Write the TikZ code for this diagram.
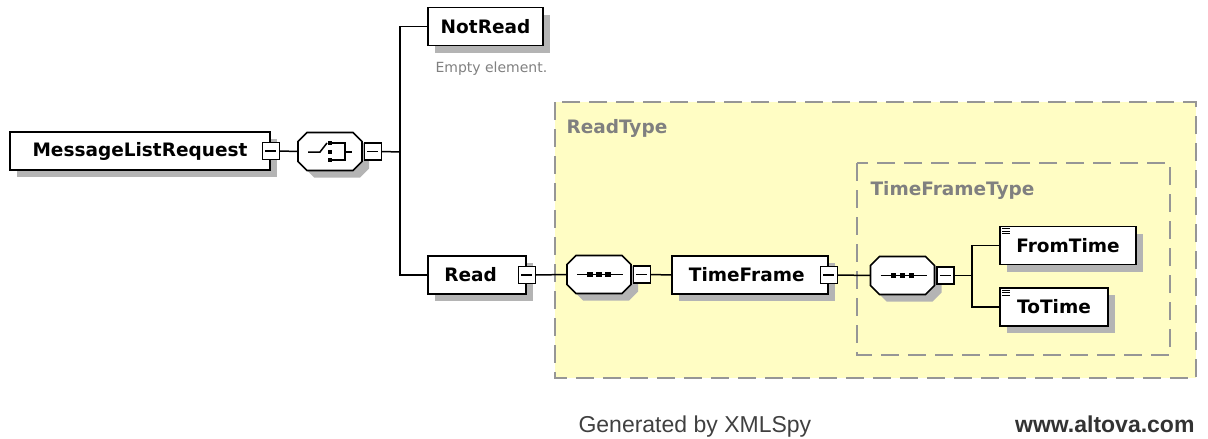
\documentclass[tikz,border=0pt]{standalone}
\usepackage{fontspec}
\setmainfont{DejaVu Sans}
\newfontfamily\footfont{Liberation Sans}
\usetikzlibrary{shadows,calc,positioning}
\definecolor{typefill}{RGB}{255,253,196}
\definecolor{typeline}{RGB}{150,150,150}
\definecolor{typetext}{RGB}{128,128,128}
\definecolor{shadowgray}{RGB}{180,180,180}
\tikzset{
  shade box/.style={drop shadow={shadow xshift=7pt,shadow yshift=-7pt,fill=shadowgray,opacity=1}},
  elem/.style={draw,fill=white,line width=1.7pt,minimum height=38pt,inner sep=0pt,
    font=\fontsize{18.5}{20}\selectfont\bfseries,shade box},
  compositor/.style={minimum width=64pt,minimum height=38pt,inner sep=0pt},
  minusbox/.style={draw,fill=white,line width=1.3pt,minimum width=17pt,minimum height=17pt,inner sep=0pt,
    path picture={\draw[line width=1.3pt] ($(path picture bounding box.west)+(3pt,0)$)
      -- ($(path picture bounding box.east)+(-3pt,0)$);}},
  wire/.style={line width=1.5pt},
  typebox/.style={draw=typeline,fill=typefill,line width=1.8pt,dash pattern=on 18pt off 9pt},
  typelabel/.style={text=typetext,font=\fontsize{18.5}{20}\selectfont\bfseries,anchor=west},
  pics/octagon/.style={code={
    \fill[shadowgray] (-25,-3) -- (-16,-12) -- (30,-12) -- (39,-3) -- (39,17) -- (30,26) -- (-16,26) -- (-25,17) -- cycle;
    \draw[fill=white,line width=1.7pt] (-32,-10) -- (-23,-19) -- (23,-19) -- (32,-10) -- (32,10) -- (23,19) -- (-23,19) -- (-32,10) -- cycle;}},
  pics/seqsym/.style={code={
    \draw[wire] (-22,0) -- (24,0);
    \foreach \d in {-9,0,9} \fill (\d-2.7,-2.7) rectangle (\d+2.7,2.7);}},
  pics/choicesym/.style={code={
    \draw[wire] (-22,0.5) -- (-10,0.5) -- (-3,-8.5);
    \foreach \d in {-8.5,0.5,8.5} \fill (-2.2,\d-2.2) rectangle (2.2,\d+2.2);
    \draw[wire] (2,-8.5) -- (15,-8.5) -- (15,8.5) -- (2,8.5) (15,0.5) -- (22,0.5);}},
  pics/simpletype/.style={code={
    \foreach \k in {0,2.6,5.2} \draw[line width=0.9pt] (0,\k) -- (8,\k);}}
}
\begin{document}
\begin{tikzpicture}[x=1pt,y=-1pt]
\useasboundingbox (0,0) rectangle (1208,439);
% complex types
\draw[typebox] (555,102) rectangle (1196,378);
\node[typelabel] (readtype) at (563,128) {ReadType};
\draw[typebox] (857,163) rectangle (1170,355);
\node[typelabel] (tftype) at (867,190) {TimeFrameType};
% root
\node[elem,minimum width=260pt] (msg) at (140,151) {MessageListRequest};
\node[minusbox] (msgm) at (msg.east) {};
\pic at (330,151.5) {octagon};
\node[compositor] (choice) at (330,151.5) {};
\pic at (choice.center) {choicesym};
\node[minusbox,right=1.5pt of choice] (choicem) {};
\coordinate (fork1) at (400,152);
% children
\node[elem,minimum width=115pt] (notread) at (485.5,26.5) {NotRead};
\node[anchor=west,text=typetext,font=\fontsize{14}{16}\selectfont] (empty) at (432,69) {Empty element.};
\node[elem,minimum width=98pt] (read) at (477,275) {Read~~~};
\node[minusbox] (readm) at (read.east) {};
\pic at (599,274.5) {octagon};
\node[compositor] (seq1) at (599,274.5) {};
\pic at (seq1.center) {seqsym};
\node[minusbox,right=1.5pt of seq1] (seq1m) {};
\node[elem,minimum width=156pt] (tf) at (750,275) {TimeFrame~~};
\node[minusbox] (tfm) at (tf.east) {};
\pic at (902.5,275.5) {octagon};
\node[compositor] (seq2) at (902.5,275.5) {};
\pic at (seq2.center) {seqsym};
\node[minusbox,right=1.5pt of seq2] (seq2m) {};
\coordinate (fork2) at (972,275.5);
\node[elem,minimum width=136pt] (from) at (1068,245.5) {FromTime};
\pic at ([shift={(3,3)}]from.north west) {simpletype};
\node[elem,minimum width=108pt] (to) at (1054,307) {ToTime};
\pic at ([shift={(3,3)}]to.north west) {simpletype};
% connectors
\draw[wire] (msgm.east) -- (choice.west);
\draw[wire] (choicem.east) -- (fork1);
\draw[wire] (notread.west) -| (fork1) |- (read.west);
\draw[wire] (readm.east) -- (seq1.west);
\draw[wire] (seq1m.east) -- (tf.west);
\draw[wire] (tfm.east) -- (seq2.west);
\draw[wire] (seq2m.east) -- (fork2);
\draw[wire] (from.west) -| (fork2) |- (to.west);
% footer
\node[anchor=base west,text=black!75,font=\footfont\fontsize{23}{25}\selectfont] (gen) at (575,432) {Generated by XMLSpy};
\node[anchor=base east,text=black!80,font=\footfont\fontsize{23}{25}\selectfont\bfseries] (www) at (1198,432) {www.altova.com};
\end{tikzpicture}
\end{document}
